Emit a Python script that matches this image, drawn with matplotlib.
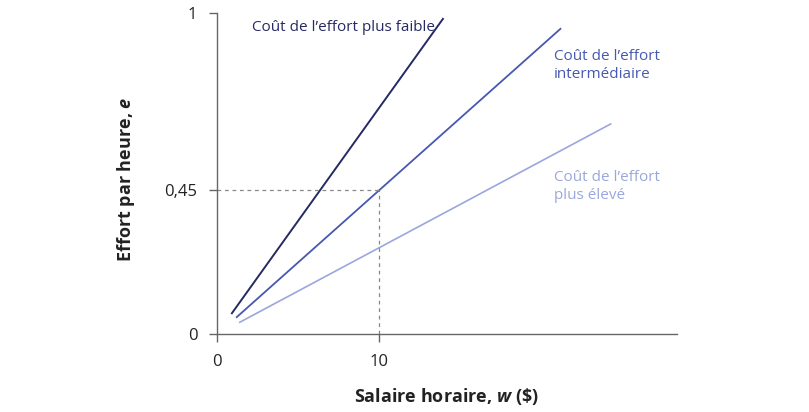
import matplotlib
matplotlib.use("Agg")
import matplotlib.pyplot as plt

# data
w_low = [0.93, 13.95]
e_low = [0.065, 0.981]
w_mid = [1.23, 21.2]
e_mid = [0.053, 0.950]
w_high = [1.42, 24.3]
e_high = [0.037, 0.654]
w_ref, e_ref = 10, 0.45

x_ticks = [0, 10]
x_ticklabels = ["0", "10"]
y_ticks = [0, 0.45, 1]
y_ticklabels = ["0", "0,45", "1"]

c_low = "#262a63"
c_mid = "#4658b0"
c_high = "#9ba7dc"
grey = "#666666"

plt.rcParams["font.family"] = ["Open Sans", "DejaVu Sans"]
plt.rcParams["mathtext.fontset"] = "custom"
plt.rcParams["mathtext.bfit"] = "Open Sans:italic:bold"
plt.rcParams["mathtext.rm"] = "Open Sans"

fig = plt.figure(figsize=(8.09, 4.12), dpi=100)
ax = fig.add_axes([0.268, 0.189, 0.569, 0.780])

ax.plot(w_low, e_low, color=c_low, lw=1.4)
ax.plot(w_mid, e_mid, color=c_mid, lw=1.3)
ax.plot(w_high, e_high, color=c_high, lw=1.2)

# dashed guides at w = 10, e = 0.45
ax.plot([0, w_ref], [e_ref, e_ref], ls=(0, (3, 3)), color="#888888", lw=0.9)
ax.plot([w_ref, w_ref], [0, e_ref], ls=(0, (3, 3)), color="#888888", lw=0.9)

ax.text(2.2, 0.955, "Coût de l\u2019effort plus faible", color=c_low,
        fontsize=11, va="center", ha="left")
ax.text(20.8, 0.835, "Coût de l\u2019effort\nintermédiaire", color=c_mid,
        fontsize=11, va="center", ha="left", linespacing=1.3)
ax.text(20.8, 0.459, "Coût de l\u2019effort\nplus élevé", color=c_high,
        fontsize=11, va="center", ha="left", linespacing=1.3)

ax.set_xlim(0, 28.4)
ax.set_ylim(0, 1)
ax.set_xticks(x_ticks)
ax.set_xticklabels(x_ticklabels)
ax.set_yticks(y_ticks)
ax.set_yticklabels(y_ticklabels)
ax.tick_params(colors=grey, labelcolor="#222222", labelsize=12,
               length=6, width=1, direction="out", pad=8)
for side in ("top", "right"):
    ax.spines[side].set_visible(False)
for side in ("left", "bottom"):
    ax.spines[side].set_color(grey)
    ax.spines[side].set_linewidth(1)

ax.set_xlabel(r"Salaire horaire, $\mathbfit{w}$ (\$)", fontsize=13,
              fontweight="bold", color="#222222", labelpad=12)
ax.set_ylabel(r"Effort par heure, $\mathbfit{e}$", fontsize=13,
              fontweight="bold", color="#222222")
ax.yaxis.set_label_coords(-0.174, 0.483)

fig.savefig("out.png", dpi=100)
